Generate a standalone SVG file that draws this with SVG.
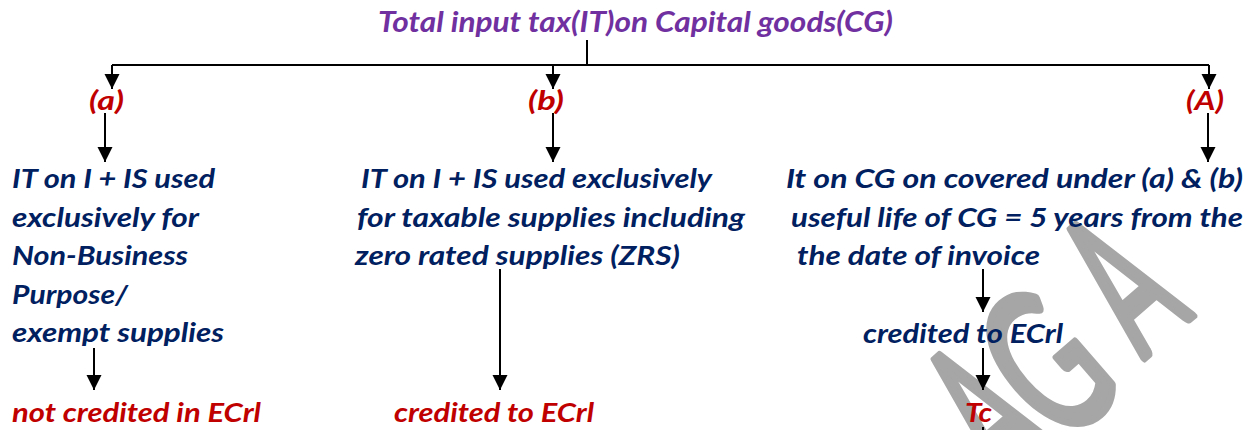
<svg xmlns="http://www.w3.org/2000/svg" width="1260" height="430" viewBox="0 0 1260 430">
<defs>
<marker id="ah" markerUnits="userSpaceOnUse" markerWidth="16" markerHeight="16" viewBox="0 0 16 16" refX="15" refY="7.5" orient="auto">
<path d="M0,0 L15,7.5 L0,15 z" fill="#000"/>
</marker>
<style>
text{font-family:Lato,"Open Sans","Liberation Sans",sans-serif;font-weight:bold;font-style:italic;font-size:27px}
.t{fill:#7030A0;font-size:28px}
.r{fill:#C00000}
.n{fill:#002060}
.wm{fill:#A6A6A6;stroke:#A6A6A6;stroke-width:8;stroke-linejoin:round;font-style:normal;font-weight:normal;font-size:203px}
.c path{stroke:#000;stroke-width:2;fill:none}
.a{marker-end:url(#ah)}
</style>
</defs>
<rect width="1260" height="430" fill="#fff"/>
<g id="watermark" transform="translate(937,357) rotate(-41)">
<text class="wm" text-anchor="middle" transform="translate(0,146) scale(0.5,1)">A</text>
<text class="wm" text-anchor="middle" transform="translate(78,149) scale(0.6,1)">G</text>
<text class="wm" text-anchor="middle" transform="translate(188,137) scale(0.5,1)">A</text>
</g>
<g id="connectors" class="c">
<path d="M587,40 V65"/>
<path d="M112,65 H1209"/>
<path class="a" d="M112,65 V89"/>
<path class="a" d="M553,65 V89"/>
<path class="a" d="M1209,65 V89"/>
<path class="a" d="M105,113 V162"/>
<path class="a" d="M553,113 V162"/>
<path class="a" d="M1208,113 V162"/>
<path class="a" d="M94,348 V390"/>
<path class="a" d="M500,269 V390"/>
<path class="a" d="M983,269 V312"/>
<path class="a" d="M983,348 V390"/>
<path d="M983,427 V432"/>
</g>
<g id="title"><text class="t" x="378" y="32" textLength="515" lengthAdjust="spacingAndGlyphs">Total input tax(IT)on Capital goods(CG)</text></g>
<g id="label-a"><text class="r" x="89" y="110" textLength="35" lengthAdjust="spacingAndGlyphs">(a)</text></g>
<g id="label-b"><text class="r" x="528" y="110" textLength="36" lengthAdjust="spacingAndGlyphs">(b)</text></g>
<g id="label-A"><text class="r" x="1186" y="110" textLength="38" lengthAdjust="spacingAndGlyphs">(A)</text></g>
<g id="node-a">
<text class="n" x="12" y="188" textLength="203" lengthAdjust="spacingAndGlyphs">IT on I + IS used</text>
<text class="n" x="12" y="226.5" textLength="187" lengthAdjust="spacingAndGlyphs">exclusively for</text>
<text class="n" x="12" y="265" textLength="176" lengthAdjust="spacingAndGlyphs">Non-Business</text>
<text class="n" x="12" y="303.5" textLength="116" lengthAdjust="spacingAndGlyphs">Purpose/</text>
<text class="n" x="12" y="342" textLength="212" lengthAdjust="spacingAndGlyphs">exempt supplies</text>
</g>
<g id="node-b">
<text class="n" x="361" y="188" textLength="351" lengthAdjust="spacingAndGlyphs">IT on I + IS used exclusively</text>
<text class="n" x="357" y="226.5" textLength="388" lengthAdjust="spacingAndGlyphs">for taxable supplies including</text>
<text class="n" x="355" y="265" textLength="325" lengthAdjust="spacingAndGlyphs">zero rated supplies (ZRS)</text>
</g>
<g id="node-A">
<text class="n" x="786" y="188" textLength="457" lengthAdjust="spacingAndGlyphs">It on CG on covered under (a) &amp; (b)</text>
<text class="n" x="791" y="226.5" textLength="452" lengthAdjust="spacingAndGlyphs">useful life of CG = 5 years from the</text>
<text class="n" x="797" y="265" textLength="243" lengthAdjust="spacingAndGlyphs">the date of invoice</text>
</g>
<g id="node-a-out"><text class="r" x="12" y="422" textLength="249" lengthAdjust="spacingAndGlyphs">not credited in ECrl</text></g>
<g id="node-b-out"><text class="r" x="394" y="422" textLength="200" lengthAdjust="spacingAndGlyphs">credited to ECrl</text></g>
<g id="node-A-credit"><text class="n" x="863" y="343" textLength="200" lengthAdjust="spacingAndGlyphs">credited to ECrl</text></g>
<g id="node-Tc"><text class="r" x="965" y="422" textLength="27" lengthAdjust="spacingAndGlyphs">Tc</text></g>
</svg>
